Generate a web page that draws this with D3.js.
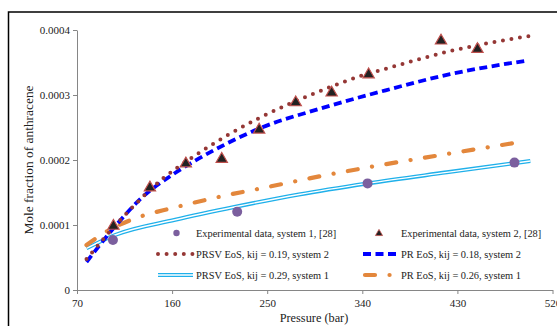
<!DOCTYPE html>
<html>
<head>
<meta charset="utf-8">
<script src="https://cdn.jsdelivr.net/npm/d3@7"></script>
<style>
  body { margin: 0; background: #fff; }
  svg { display: block; }
</style>
</head>
<body>
<svg class="chartSVG" width="557" height="326"></svg>
<script>
// experimental points [pressure (bar), mole fraction]
const expSys1 = [[104, 0.0000769], [221.6, 0.0001205], [345, 0.000164], [484, 0.000196]];
const expSys2 = [[104.5, 0.0001], [139, 0.000159], [173, 0.000196], [207, 0.000203], [242.4, 0.000248],
                 [277, 0.00029], [311, 0.000305], [346, 0.000333], [414.5, 0.000385], [449, 0.000372]];

// model curves
const prsvSys2 = [[79, 0.0000477], [114, 0.000113], [126.5, 0.000134], [151.7, 0.000172], [180, 0.000205],
                  [241.7, 0.000264], [297, 0.000304], [338, 0.000329], [363.5, 0.000341], [421.7, 0.000367], [499, 0.000391]];
const prSys2 = [[79, 0.0000431], [104.5, 0.0000949], [131.3, 0.000142], [162.8, 0.00018], [200.7, 0.000216],
                [243.4, 0.000249], [300, 0.000279], [357, 0.000305], [423, 0.000332], [496, 0.000353]];
const prsvSys1 = [[79, 0.0000641], [106, 0.0000846], [163, 0.000108], [220, 0.000128], [280, 0.000147],
                  [345, 0.000164], [420, 0.000181], [499, 0.0001985]];
const prSys1 = [[79, 0.0000692], [100, 0.000092], [130, 0.000113], [160, 0.000126], [215, 0.000147],
                [243, 0.000156], [300, 0.000175], [357, 0.000192], [423, 0.00021], [487, 0.000227]];

const xTicks = [70, 160, 250, 340, 430, 520];
const yTicks = [0, 0.0001, 0.0002, 0.0003, 0.0004];

const legendLabels = [
  'Experimental data, system 1, [28]',
  'Experimental data, system 2, [28]',
  'PRSV EoS, kij = 0.19, system 2',
  'PR EoS, kij = 0.18, system 2',
  'PRSV EoS, kij = 0.29, system 1',
  'PR EoS, kij = 0.26, system 1'
];

const font = "'Liberation Serif', 'Times New Roman', serif";
const svg = d3.select('svg.chartSVG');

// outer frame (runs off the picture on right and bottom)
svg.append('rect')
  .attr('x', 8.5).attr('y', 12)
  .attr('width', 600).attr('height', 400)
  .style('fill', 'none').style('stroke', '#000').style('stroke-width', 1.5);

const x = d3.scaleLinear().domain([70, 520]).range([77, 552.5]);
const y = d3.scaleLinear().domain([0, 0.0004]).range([290, 30]);

const xAxis = svg.append('g')
  .attr('transform', 'translate(0,290)')
  .call(d3.axisBottom(x).tickValues(xTicks).tickSize(4).tickSizeOuter(0).tickFormat(d3.format('d')));
const yAxis = svg.append('g')
  .attr('transform', 'translate(77,0)')
  .call(d3.axisLeft(y).tickValues(yTicks).tickSize(4).tickSizeOuter(0).tickFormat(d => d === 0 ? '0' : d3.format('.4f')(d)));

[xAxis, yAxis].forEach(a => {
  a.select('.domain').style('stroke', '#868686');
  a.selectAll('line').style('stroke', '#868686');
  a.selectAll('text').style('font-family', font).style('font-size', '11px').style('fill', '#222');
});
xAxis.selectAll('text').attr('dy', '0.95em');

svg.append('text')
  .text('Pressure (bar)')
  .attr('x', 314).attr('y', 321.5)
  .style('text-anchor', 'middle')
  .style('font-family', font).style('font-size', '12.3px').style('fill', '#222');

svg.append('text')
  .text('Mole fraction of anthracene')
  .attr('transform', 'translate(33,160) rotate(-90)')
  .style('text-anchor', 'middle')
  .style('font-family', font).style('font-size', '13.4px').style('fill', '#222');

const line = d3.line().x(d => x(d[0])).y(d => y(d[1])).curve(d3.curveMonotoneX);

// styles for each curve
const styles = {
  prsv2: { stroke: '#953735', width: 4, dash: '0,8.6', cap: 'round' },
  pr2:   { stroke: '#0000ff', width: 3.8, dash: '8,4.5', cap: 'butt' },
  pr1:   { stroke: '#e3873c', width: 4.2, dash: '10,14.5,0.1,14.5', cap: 'round' }
};

function drawStyled(g, d, s) {
  g.append('path').attr('d', d)
    .style('fill', 'none').style('stroke', s.stroke).style('stroke-width', s.width)
    .style('stroke-dasharray', s.dash).style('stroke-linecap', s.cap);
}
function drawDouble(g, d) {
  g.append('path').attr('d', d).style('fill', 'none').style('stroke', '#1fb0ea').style('stroke-width', 4);
  g.append('path').attr('d', d).style('fill', 'none').style('stroke', '#fff').style('stroke-width', 1.4);
}

const plot = svg.append('g').attr('class', 'plot');
drawDouble(plot, line(prsvSys1));
drawStyled(plot, line(prSys1), styles.pr1);
drawStyled(plot, line(prSys2), styles.pr2);
drawStyled(plot, line(prsvSys2), styles.prsv2);

const tri = d3.symbol().type(d3.symbolTriangle);

plot.selectAll('circle.exp1')
  .data(expSys1)
  .enter()
  .append('circle')
  .attr('class', 'exp1')
  .attr('cx', d => x(d[0])).attr('cy', d => y(d[1]))
  .attr('r', 5)
  .style('fill', '#7b5f9e');

plot.selectAll('path.exp2')
  .data(expSys2)
  .enter()
  .append('path')
  .attr('class', 'exp2')
  .attr('d', tri.size(55)())
  .attr('transform', d => `translate(${x(d[0])},${y(d[1]) + 1})`)
  .style('fill', '#222').style('stroke', '#c0504d').style('stroke-width', 1.2);

// legend
const legend = svg.append('g').attr('class', 'legend');
const colX = [158, 363];
const rowY = [233, 254, 275];
const symW = 35;

legendLabels.forEach((lab, i) => {
  const cx = colX[i % 2], cy = rowY[Math.floor(i / 2)];
  legend.append('text')
    .text(lab)
    .attr('x', cx + symW + 3).attr('y', cy + 3.8)
    .style('font-family', font).style('font-size', '10.4px').style('fill', '#222');
});

// row 1 symbols
legend.append('circle').attr('cx', colX[0] + 18.5).attr('cy', rowY[0]).attr('r', 3.2).style('fill', '#7b5f9e');
legend.append('path').attr('d', tri.size(22)())
  .attr('transform', `translate(${colX[1] + 16},${rowY[0] + 0.5})`)
  .style('fill', '#222').style('stroke', '#c0504d').style('stroke-width', 0.8);

// row 2 and 3 line symbols
const seg = x0 => `M${x0},0L${x0 + symW},0`;
drawStyled(legend.append('g').attr('transform', `translate(0,${rowY[1]})`), seg(colX[0]), styles.prsv2);
drawStyled(legend.append('g').attr('transform', `translate(0,${rowY[1]})`), seg(colX[1]), styles.pr2);
drawDouble(legend.append('g').attr('transform', `translate(0,${rowY[2]})`), seg(colX[0]));
drawStyled(legend.append('g').attr('transform', `translate(0,${rowY[2]})`), seg(colX[1] + 2), styles.pr1);
</script>
</body>
</html>
